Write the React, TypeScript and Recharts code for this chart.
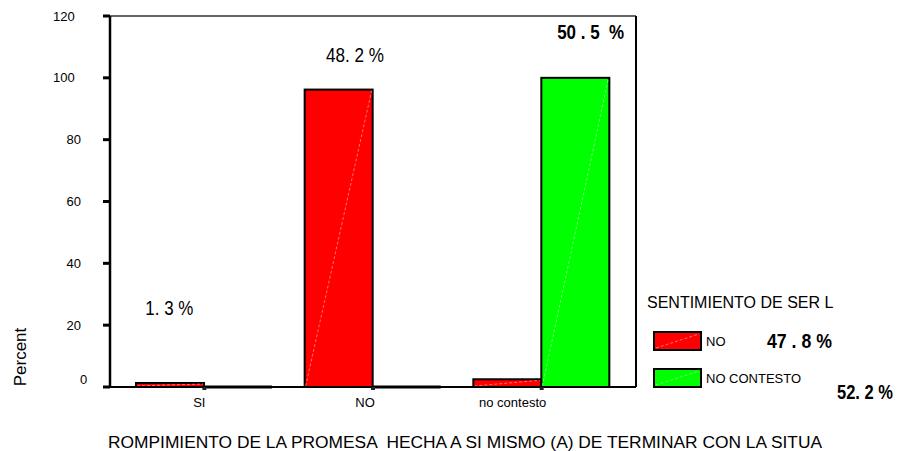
import React from 'react';
import { BarChart, Bar, XAxis, YAxis, ReferenceLine, ReferenceDot } from 'recharts';

const categories = ['SI', 'NO', 'no contesto'];
const seriesNames = ['NO', 'NO CONTESTO'];
const redValues = [1.3, 96.2, 2.5];
const greenValues = [0, 0, 100];
const yTicks = [0, 20, 40, 60, 80, 100, 120];
const annotations = [
  { cat: 'SI', y: 25.6, text: '1. 3 %', bold: false, dx: -35, len: 48 },
  { cat: 'NO', y: 107.4, text: '48. 2 %', bold: false, dx: -18, len: 58 },
  { cat: 'no contesto', y: 114.8, text: '50 . 5  %', bold: true, dx: 49, len: 67 },
];
const xTitle = 'ROMPIMIENTO DE LA PROMESA  HECHA A SI MISMO (A) DE TERMINAR CON LA SITUA';
const yTitle = 'Percent';
const legendTitle = 'SENTIMIENTO DE SER L';
const legendPercents = ['47 . 8 %', '52. 2 %'];
const colors = ['#ff0000', '#00ff00'];

const data = categories.map((c, i) => ({ cat: c, no: redValues[i], nc: greenValues[i] }));

const FONT = 'Arial, "Liberation Sans", sans-serif';
const PRE = { whiteSpace: 'pre' as const };

const BarShape = (props: any) => {
  const { x, y, width, height, fill } = props;
  if (!height || height < 0.5) {
    const yy = y + (height || 0);
    return <line x1={x} x2={x + width} y1={yy} y2={yy} stroke="#000" strokeWidth={3} />;
  }
  return (
    <g>
      <rect x={x} y={y} width={width} height={height} fill={fill} stroke="#000" strokeWidth={2} />
      <line x1={x + 1} y1={y + height - 1} x2={x + width - 1} y2={y + 1} stroke="#fff" strokeOpacity={0.55} strokeWidth={0.8} strokeDasharray="3 2" />
    </g>
  );
};

const YTick = (props: any) => {
  const { y, payload } = props;
  const s = String(payload.value);
  return (
    <text x={53 + (3 - s.length) * 13.5} y={y + (payload.value === 0 ? -8 : 0)} dy={4.5} fontSize={13} fontFamily={FONT} fill="#000" textAnchor="start">
      {s}
    </text>
  );
};

const xOffsets: Record<string, number> = { SI: -5, NO: -8, 'no contesto': -29 };
const XTick = (props: any) => {
  const { x, y, payload } = props;
  return (
    <text x={x + (xOffsets[payload.value] || 0)} y={y + 15} fontSize={13} fontFamily={FONT} fill="#000" textAnchor="middle">
      {payload.value}
    </text>
  );
};

const AnnLabel = (ann: any) => (props: any) => {
  const vb = props.viewBox || {};
  const cx = (vb.x || 0) + (vb.width || 0) / 2;
  const cy = (vb.y || 0) + (vb.height || 0) / 2;
  return (
    <text
      x={cx + ann.dx - ann.len / 2}
      y={cy + 7}
      fontSize={20}
      fontFamily={FONT}
      fontWeight={ann.bold ? 'bold' : 'normal'}
      fill="#000"
      textLength={ann.len}
      lengthAdjust="spacingAndGlyphs"
      style={PRE}
    >
      {ann.text}
    </text>
  );
};

export default function App() {
  return (
    <div style={{ position: 'absolute', left: 0, top: 0, width: 907, height: 451, background: '#fff' }}>
      <BarChart
        width={907}
        height={451}
        data={data}
        margin={{ top: 16, right: 270, bottom: 0, left: 0 }}
        barCategoryGap={16}
        barGap={0}
      >
        <XAxis
          dataKey="cat"
          height={64}
          padding={{ left: 10, right: 10 }}
          axisLine={{ stroke: '#000', strokeWidth: 2 }}
          tickLine={{ stroke: '#222', strokeWidth: 4 }}
          tickSize={3}
          tick={<XTick />}
          interval={0}
          label={() => (
            <text x={108} y={448} fontSize={16} fontFamily={FONT} fill="#000" textLength={714} lengthAdjust="spacingAndGlyphs" style={PRE}>
              {xTitle}
            </text>
          )}
        />
        <YAxis
          width={110}
          domain={[0, 120]}
          ticks={yTicks}
          interval={0}
          axisLine={{ stroke: '#000', strokeWidth: 2.5 }}
          tickLine={{ stroke: '#000', strokeWidth: 3 }}
          tickSize={7}
          tick={<YTick />}
          label={() => (
            <text x={0} y={0} transform="translate(26,357) rotate(-90)" fontSize={17} fontFamily={FONT} fill="#000" textAnchor="middle">
              {yTitle}
            </text>
          )}
        />
        <YAxis yAxisId="right" orientation="right" width={1} domain={[0, 120]} tick={false} tickLine={false} axisLine={{ stroke: '#000', strokeWidth: 2 }} />
        <ReferenceLine y={120} stroke="#666" strokeWidth={2} />
        <Bar dataKey="no" name={seriesNames[0]} fill={colors[0]} shape={<BarShape />} isAnimationActive={false} />
        <Bar dataKey="nc" name={seriesNames[1]} fill={colors[1]} shape={<BarShape />} isAnimationActive={false} />
        {annotations.map((a) => (
          <ReferenceDot key={a.cat} x={a.cat} y={a.y} r={0} fill="none" stroke="none" label={AnnLabel(a)} />
        ))}
      </BarChart>
      <svg width={907} height={451} style={{ position: 'absolute', left: 0, top: 0, pointerEvents: 'none' }}>
        <text x={647} y={308} fontSize={16} fontFamily={FONT} fill="#000">{legendTitle}</text>
        {seriesNames.map((n, i) => {
          const top = 332 + i * 37;
          return (
            <g key={n}>
              <rect x={654} y={top} width={47} height={18} fill={colors[i]} stroke="#000" strokeWidth={2} />
              <line x1={656} y1={top + 16} x2={699} y2={top + 2} stroke="#fff" strokeOpacity={0.55} strokeWidth={0.8} strokeDasharray="3 2" />
              <text x={706} y={top + 14} fontSize={13} fontFamily={FONT} fill="#000">{n}</text>
            </g>
          );
        })}
        <text x={767} y={348} fontSize={20} fontWeight="bold" fontFamily={FONT} fill="#000" textLength={65} lengthAdjust="spacingAndGlyphs" style={PRE}>{legendPercents[0]}</text>
        <text x={837} y={399} fontSize={20} fontWeight="bold" fontFamily={FONT} fill="#000" textLength={56} lengthAdjust="spacingAndGlyphs" style={PRE}>{legendPercents[1]}</text>
      </svg>
    </div>
  );
}
